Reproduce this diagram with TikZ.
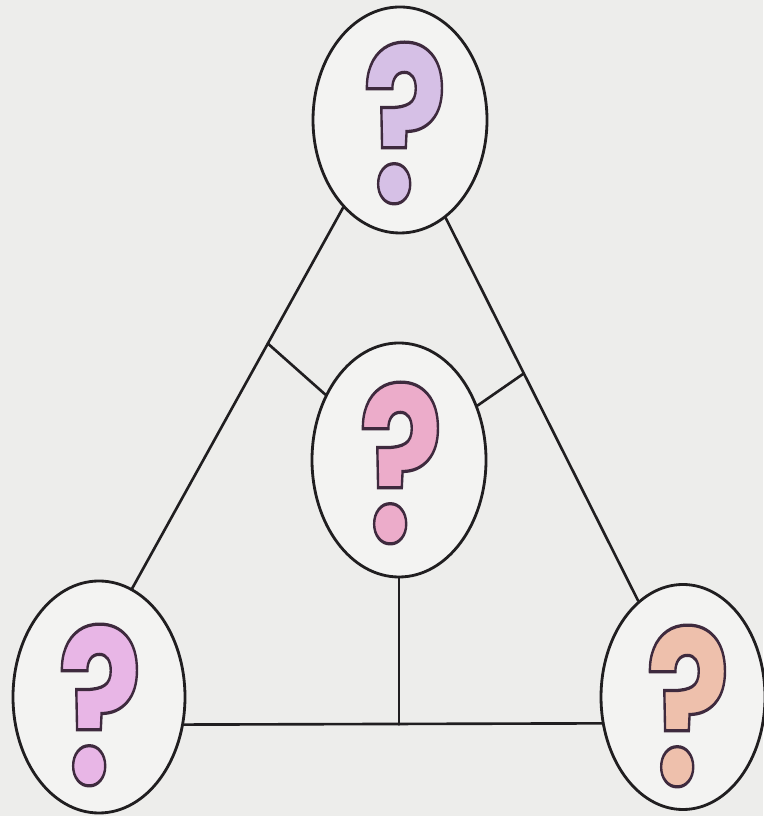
\documentclass[tikz,border=0pt]{standalone}
\usepackage{fontspec}
\usepackage{graphicx}
\usepackage{tikz}
\usetikzlibrary{calc,shapes.geometric}
\newfontfamily\qfont{Poppins Bold}[FakeBold=1.5]
\definecolor{paper}{RGB}{237,237,235}
\definecolor{bubble}{RGB}{243,243,242}
\definecolor{ink}{RGB}{32,30,32}
\definecolor{lilac}{RGB}{214,192,230}
\definecolor{rose}{RGB}{236,172,202}
\definecolor{orchid}{RGB}{232,182,230}
\definecolor{peach}{RGB}{238,192,172}
% fill colour from the node, outline stroked in dark plum
\newcommand{\qmark}{\special{pdf:code 0.243 0.165 0.243 RG}%
  \resizebox{1.7cm}{3.2cm}{\qfont\fontsize{125}{125}\selectfont ?}}

\begin{document}
\begin{tikzpicture}[
    bubble/.style={ellipse, draw=ink, line width=1.6pt, fill=bubble,
                   minimum width=#1, inner sep=0pt},
    qm/.style={inner sep=0pt, text=#1},
    edge/.style={draw=ink, line width=1.5pt, line cap=round}
]
\fill[paper] (0,0) rectangle (15.26,16.32);
\useasboundingbox (0,0) rectangle (15.26,16.32);

% Bubbles
\node[bubble=3.48cm, minimum height=4.52cm] (top) at (8.00,13.92) {};
\node[bubble=3.48cm, minimum height=4.68cm] (mid) at (7.98,7.12) {};
\node[bubble=3.44cm, minimum height=4.64cm] (bl) at (1.98,2.38) {};
\node[bubble=3.28cm, minimum height=4.50cm] (br) at (13.66,2.38) {};

% Question marks
\node[qm=lilac] (qtop) at (8.10,13.86) {\qmark};
\node[qm=rose] (qmid) at (8.02,7.06) {\qmark};
\node[qm=orchid] (qbl) at (2.00,2.22) {\qmark};
\node[qm=peach] (qbr) at (13.76,2.20) {\qmark};

% Triangle
\draw[edge] (top.237) -- (bl.73);
\draw[edge] (top.295) -- (br.115);
\draw[edge] (bl.342) -- (br.198);

% Spokes
\coordinate (jl) at ($(top.237)!0.357!(bl.73)$);
\coordinate (jr) at ($(top.295)!0.406!(br.115)$);
\draw[edge] (jl) -- (mid);
\draw[edge] (jr) -- (mid);
\draw[edge] (mid) -- (mid |- bl.342);
\end{tikzpicture}
\end{document}
